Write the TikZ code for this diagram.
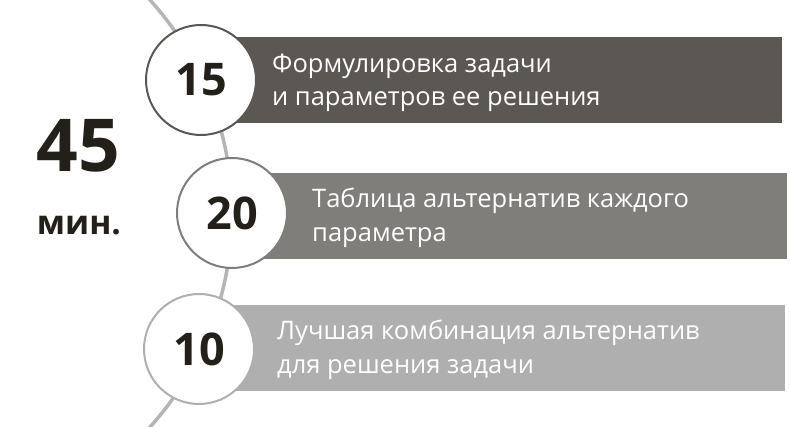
\documentclass[tikz,border=0pt]{standalone}
\usepackage{fontspec}
\setmainfont{Open Sans}
\definecolor{barA}{HTML}{5B5853}
\definecolor{barB}{HTML}{7F7E7B}
\definecolor{barC}{HTML}{B0AFAF}
\definecolor{arcgray}{HTML}{B5B5B5}
\definecolor{numink}{HTML}{231F1A}
\begin{document}
\begin{tikzpicture}[x=1pt, y=-1pt,
    bar/.style={rectangle, inner sep=0pt, minimum height=86pt, anchor=west},
    stage/.style={circle, fill=white, line width=2pt, minimum size=110pt, inner sep=0pt,
      text=numink, font=\bfseries\fontsize{45}{45}\selectfont},
    bartext/.style={anchor=west, align=left, inner sep=0pt, text=white,
      font=\fontsize{25.5}{33.5}\selectfont}]
          \useasboundingbox (0,0) rectangle (790,427);
          \draw[arcgray, line width=3.5pt] (-87,213.5) ++(-44:319) arc (-44:44:319);

          \node[bar, fill=barA, minimum width=581pt] (bar1) at (201,80) {};
          \node[bar, fill=barB, minimum width=555pt] (bar2) at (232,216) {};
          \node[bar, fill=barC, minimum width=586pt] (bar3) at (199,348) {};

          \node[stage, draw=barA] (n15) at (201,80) {15};
          \node[stage, draw=barB] (n20) at (232,213) {20};
          \node[stage, draw=barC] (n10) at (199,349) {10};

          \node[bartext] (t1) at (272,83) {Формулировка задачи\\и параметров ее решения};
          \node[bartext] (t2) at (312,218) {Таблица альтернатив каждого\\параметра};
          \node[bartext] (t3) at (277,350) {Лучшая комбинация альтернатив\\для решения задачи};

          \node[anchor=base, text=numink, font=\bfseries\fontsize{73}{73}\selectfont] (total) at (78,172) {45};
          \node[anchor=base, text=numink, font=\bfseries\fontsize{33.5}{33.5}\selectfont] (unit) at (79,235) {мин.};
        \end{tikzpicture}
\end{document}
